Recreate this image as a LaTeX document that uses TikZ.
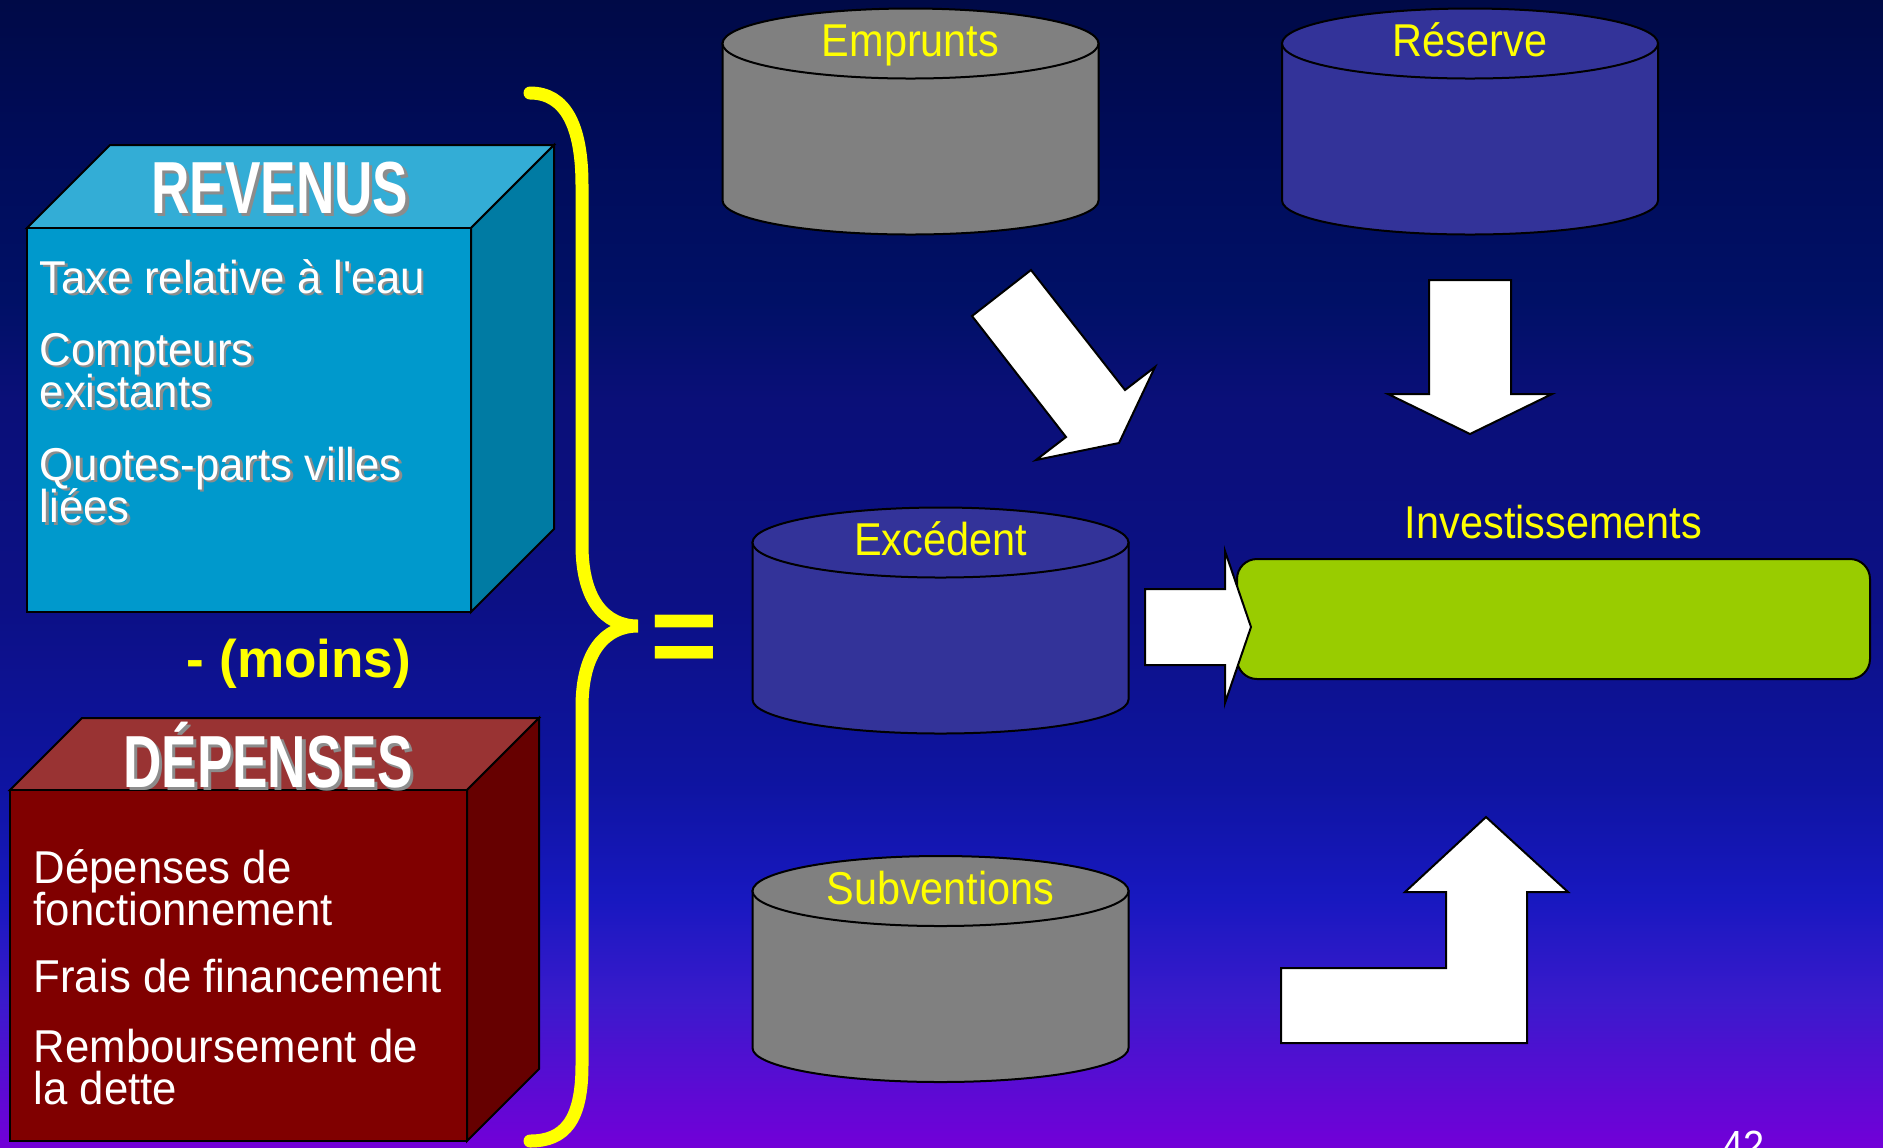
\documentclass[tikz,border=0pt]{standalone}
\usepackage{fontspec}
\setmainfont{Liberation Sans}
\newfontfamily\corps{Liberation Sans}[FakeStretch=0.95]
\newfontfamily\etiq{Liberation Sans}[FakeStretch=0.9]
\newfontfamily\titre{Liberation Sans Bold}[FakeStretch=0.72]
\usepackage{tikz}
\usetikzlibrary{positioning}
\definecolor{jaune}{HTML}{FFFF00}
\definecolor{bleuface}{HTML}{0099CC}
\definecolor{bleudessus}{HTML}{33ADD6}
\definecolor{bleucote}{HTML}{007BA3}
\definecolor{rougeface}{HTML}{800000}
\definecolor{rougedessus}{HTML}{993333}
\definecolor{rougecote}{HTML}{660000}
\definecolor{griscuve}{HTML}{808080}
\definecolor{bleucuve}{HTML}{333399}
\definecolor{vert}{HTML}{99CC00}
\definecolor{gristexte}{HTML}{8C8C8C}
\definecolor{fondA}{HTML}{7200D8}
\definecolor{fondB}{HTML}{3A1ACC}
\definecolor{fondC}{HTML}{1818C0}
\definecolor{fondD}{HTML}{0E14A0}
\definecolor{fondE}{HTML}{0C1085}
\definecolor{fondF}{HTML}{0A0F78}
\definecolor{fondG}{HTML}{001066}
\definecolor{fondH}{HTML}{000C5A}
\definecolor{fondI}{HTML}{000A47}
\pgfdeclareverticalshading{fond}{100bp}{color(0bp)=(fondA); color(25bp)=(fondA); color(31.4bp)=(fondB); color(35.8bp)=(fondC); color(41bp)=(fondD); color(48.8bp)=(fondE); color(57.6bp)=(fondF); color(61.9bp)=(fondG); color(68.5bp)=(fondH); color(75bp)=(fondI); color(100bp)=(fondI)}
\tikzstyle{contour} = [draw=black, line width=0.2mm]
\tikzstyle{fleche} = [contour, fill=white]
\tikzstyle{ligne} = [text=white, font={\corps\fontsize{13.1}{12.1}\selectfont\lineskiplimit=-20pt}, anchor=base west, inner sep=0pt, text width=44mm, align=flush left]
\tikzstyle{titrecube} = [text=white, font=\titre\fontsize{21}{24}\selectfont, anchor=base, inner sep=0pt]
\tikzstyle{etiquette} = [text=jaune, font=\etiq\fontsize{13.1}{15}\selectfont, anchor=base, inner sep=0pt]
\tikzstyle{signe} = [text=jaune, anchor=base, inner sep=0pt]
\newcommand{\ombre}[2][0.7pt]{\makebox[0pt][l]{\hspace{#1}\raisebox{-#1}{\color{gristexte}#2}}#2}
\newcommand{\cuve}[5]{%
  \filldraw[contour, fill=#4] (#2-188,#3) -- (#2-188,#3+157) arc[start angle=180, end angle=0, x radius=188, y radius=34] -- (#2+188,#3) -- cycle;
  \filldraw[contour, fill=#4] (#2,#3) ellipse[x radius=188, y radius=35];
  \node[etiquette] (#1) at (#2,#3+13) {#5};}

\begin{document}
\begin{tikzpicture}[x=0.1mm, y=-0.1mm]
  \useasboundingbox (0,0) rectangle (1883,1147);
  \clip (0,0) rectangle (1883,1147);
  \shade[shading=fond] (0,0) rectangle (1883,1147);

  % revenus
  \filldraw[contour, fill=bleudessus] (27,228) -- (110,145) -- (554,145) -- (471,228) -- cycle;
  \filldraw[contour, fill=bleucote] (471,228) -- (554,145) -- (554,529) -- (471,612) -- cycle;
  \filldraw[contour, fill=bleuface] (27,228) rectangle (471,612);
  \node[titrecube] (revenus) at (280,213) {\ombre[0.9pt]{REVENUS}};
  \node[ligne] (taxe) at (39,293) {\ombre{Taxe relative à l'eau}};
  \node[ligne] (compteurs) at (39,365) {\ombre{Compteurs}\\\ombre{existants}};
  \node[ligne] (quotes) at (39,480) {\ombre{Quotes-parts villes}\\\ombre{liées}};

  \node[signe, font=\bfseries\fontsize{15.1}{18}\selectfont] (moins) at (299,677) {- (moins)};

  % depenses
  \filldraw[contour, fill=rougedessus] (10,790) -- (82,718) -- (539,718) -- (467,790) -- cycle;
  \filldraw[contour, fill=rougecote] (467,790) -- (539,718) -- (539,1069) -- (467,1141) -- cycle;
  \filldraw[contour, fill=rougeface] (10,790) rectangle (467,1141);
  \node[titrecube] (depenses) at (268,787) {\ombre[0.9pt]{DÉPENSES}};
  \node[ligne] (fonct) at (33,883) {Dépenses de\\fonctionnement};
  \node[ligne] (frais) at (33,992) {Frais de financement};
  \node[ligne] (rembt) at (33,1062) {Remboursement de\\la dette};

  % accolade
  \draw[jaune, line width=1.3mm, line cap=round] (530,93) .. controls (565,93) and (582,125) .. (582,185)
    -- (582,545) .. controls (582,600) and (605,626) .. (638,626)
    .. controls (605,626) and (582,652) .. (582,707)
    -- (582,1065) .. controls (582,1120) and (565,1141) .. (530,1141);
  \node[signe, font=\bfseries\fontsize{33}{36}\selectfont] (egal) at (684,675) {=};

  % cuves
  \cuve{emprunts}{910.5}{43.5}{griscuve}{Emprunts}
  \cuve{reserve}{1470}{43.5}{bleucuve}{Réserve}
  \cuve{excedent}{940.5}{542.5}{bleucuve}{Excédent}
  \cuve{subventions}{940.5}{891}{griscuve}{Subventions}

  % investissements
  \node[contour, fill=vert, rounded corners=2mm, minimum width=63.3mm, minimum height=12mm, inner sep=0pt] (invest) at (1553.5,619) {};
  \node[etiquette, above=1.8mm of invest] (investtxt) {Investissements};

  % fleches
  \filldraw[fleche] (1031,270) -- (972,316) -- (1066,437) -- (1036,460) -- (1119,443) -- (1155,367) -- (1125,390) -- cycle;
  \filldraw[fleche] (1429,280) -- (1511,280) -- (1511,394) -- (1552,394) -- (1470,434) -- (1388,394) -- (1429,394) -- cycle;
  \filldraw[fleche] (1145,589) -- (1225,589) -- (1225,551) -- (1251,627) -- (1225,703) -- (1225,665) -- (1145,665) -- cycle;
  \filldraw[fleche] (1281,968) -- (1446,968) -- (1446,892) -- (1405,892) -- (1486,817) -- (1568,892) -- (1527,892) -- (1527,1043) -- (1281,1043) -- cycle;

  \node[text=white, font=\etiq\fontsize{12}{14}\selectfont, anchor=base west, inner sep=0pt] (page) at (1722,1160) {42};
\end{tikzpicture}
\end{document}
